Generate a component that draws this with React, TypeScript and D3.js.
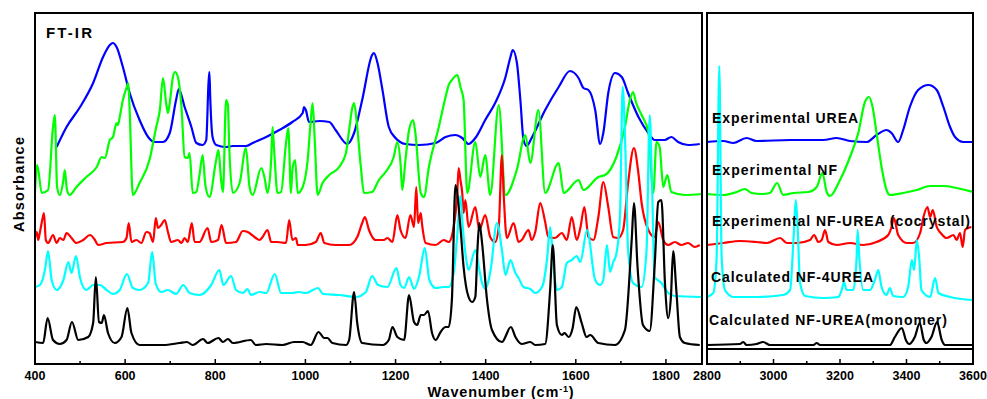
import * as d3 from 'd3'

type Pt = [number, number]

// wavenumber (cm-1), absorbance (a.u., stacked offsets included)
const EXP_UREA: Pt[] = [
  [448, 217], [470, 237], [500, 257], [529, 281], [551, 307], [566, 319], [573, 321], [581, 317], [595, 297], [610, 271],
  [632, 244], [651, 227], [665, 222], [684, 222], [699, 231], [713, 264], [719, 275], [732, 257], [747, 237], [758, 221],
  [772, 219], [780, 224], [785, 281], [787, 292], [789, 264], [794, 227], [802, 219], [824, 217], [839, 218], [868, 218],
  [883, 221], [913, 227], [942, 234], [971, 242], [994, 251], [997, 257], [1001, 254], [1008, 242], [1031, 243], [1053, 242],
  [1067, 234], [1093, 220], [1108, 231], [1126, 264], [1148, 309], [1152, 311], [1160, 301], [1171, 274], [1185, 237], [1200, 226],
  [1222, 220], [1252, 219], [1289, 221], [1311, 227], [1333, 229], [1348, 226], [1362, 220], [1377, 226], [1399, 244], [1421, 261],
  [1444, 287], [1455, 307], [1460, 314], [1469, 302], [1477, 264], [1484, 224], [1491, 218], [1502, 226], [1532, 254], [1562, 277],
  [1587, 293], [1606, 286], [1617, 276], [1628, 274], [1643, 254], [1654, 220], [1661, 231], [1672, 271], [1687, 291], [1702, 287],
  [1716, 271], [1739, 247], [1761, 231], [1775, 224], [1797, 224], [1812, 227], [1827, 222], [1849, 219], [1875, 220],
  [2800, 222], [2849, 223], [2879, 221], [2919, 226], [2949, 223], [3050, 224], [3150, 224], [3190, 226], [3230, 223], [3280, 222],
  [3310, 229], [3340, 234], [3355, 231], [3375, 222], [3390, 234], [3410, 257], [3435, 274], [3466, 279], [3491, 274], [3511, 257],
  [3531, 237], [3546, 227], [3571, 222], [3600, 222],
]

const EXP_NF: Pt[] = [
  [400, 172], [405, 199], [415, 171], [429, 174], [440, 237], [444, 249], [449, 177], [455, 169], [463, 184], [466, 194],
  [471, 174], [477, 169], [492, 177], [514, 187], [537, 197], [548, 207], [555, 206], [566, 224], [573, 227], [581, 241],
  [584, 239], [588, 247], [595, 264], [603, 276], [607, 281], [610, 254], [617, 169], [632, 181], [654, 204], [669, 237],
  [677, 254], [684, 286], [691, 261], [695, 251], [699, 261], [706, 287], [711, 292], [717, 287], [725, 257], [732, 207],
  [739, 206], [743, 211], [750, 171], [758, 172], [765, 189], [772, 209], [778, 179], [787, 167], [802, 204], [807, 214],
  [813, 184], [817, 172], [824, 264], [828, 259], [831, 217], [839, 171], [854, 181], [868, 216], [876, 177], [883, 169],
  [902, 196], [909, 187], [916, 171], [924, 204], [927, 237], [931, 211], [938, 171], [946, 172], [957, 221], [962, 236],
  [968, 171], [971, 194], [977, 204], [983, 171], [994, 177], [1005, 204], [1012, 244], [1016, 261], [1021, 221], [1027, 169],
  [1038, 181], [1053, 189], [1075, 197], [1090, 211], [1097, 234], [1104, 256], [1108, 261], [1115, 237], [1123, 197], [1130, 171],
  [1148, 172], [1163, 184], [1178, 192], [1196, 207], [1204, 222], [1211, 201], [1215, 174], [1222, 204], [1230, 234], [1239, 244],
  [1244, 231], [1256, 171], [1263, 167], [1274, 197], [1296, 237], [1311, 267], [1318, 279], [1325, 284], [1337, 289], [1344, 277],
  [1351, 264], [1359, 171], [1377, 222], [1388, 187], [1399, 209], [1410, 169], [1429, 259], [1444, 169], [1469, 194], [1488, 229],
  [1499, 201], [1517, 254], [1532, 171], [1562, 201], [1573, 171], [1606, 184], [1617, 174], [1650, 187], [1665, 189], [1690, 207],
  [1709, 237], [1720, 264], [1727, 272], [1734, 261], [1746, 249], [1761, 232], [1772, 171], [1779, 222], [1786, 217], [1794, 177],
  [1803, 189], [1812, 172], [1842, 169], [1879, 170],
  [2800, 170], [2849, 169], [2889, 172], [2914, 175], [2934, 171], [2965, 170], [2989, 171], [3011, 181], [3029, 169], [3060, 171],
  [3105, 172], [3130, 177], [3147, 191], [3160, 172], [3170, 168], [3200, 184], [3230, 207], [3255, 231], [3275, 262], [3287, 267],
  [3298, 257], [3310, 231], [3325, 197], [3340, 174], [3350, 169], [3390, 171], [3431, 174], [3471, 178], [3511, 178], [3551, 176],
  [3600, 172],
]

const EXP_COCRYSTAL: Pt[] = [
  [400, 127], [404, 132], [407, 124], [411, 132], [417, 146], [420, 151], [424, 124], [429, 121], [440, 129], [448, 121],
  [455, 126], [463, 124], [470, 131], [481, 126], [492, 121], [507, 124], [522, 129], [533, 124], [540, 119], [559, 121],
  [595, 122], [603, 126], [608, 141], [614, 122], [625, 124], [636, 121], [647, 132], [654, 131], [662, 122], [668, 146],
  [673, 136], [680, 139], [688, 144], [695, 132], [702, 122], [717, 124], [725, 121], [732, 126], [739, 122], [748, 141],
  [754, 122], [765, 122], [783, 136], [791, 122], [806, 124], [814, 139], [824, 121], [846, 122], [861, 133], [872, 132],
  [887, 127], [898, 124], [905, 127], [916, 134], [924, 122], [938, 122], [957, 121], [964, 144], [971, 124], [979, 126],
  [983, 119], [1001, 119], [1023, 122], [1034, 131], [1042, 121], [1067, 119], [1097, 119], [1115, 127], [1126, 141], [1132, 147],
  [1141, 134], [1156, 124], [1174, 124], [1182, 126], [1193, 122], [1204, 149], [1211, 134], [1222, 126], [1233, 149], [1241, 137],
  [1246, 177], [1250, 141], [1256, 151], [1259, 139], [1267, 121], [1289, 119], [1307, 124], [1318, 122], [1329, 137], [1337, 171],
  [1340, 196], [1344, 184], [1348, 171], [1351, 151], [1355, 164], [1362, 137], [1377, 157], [1386, 134], [1399, 149], [1410, 127],
  [1421, 122], [1429, 137], [1436, 209], [1440, 169], [1447, 126], [1462, 141], [1473, 122], [1480, 124], [1495, 134], [1502, 124],
  [1510, 132], [1521, 161], [1532, 142], [1539, 127], [1554, 126], [1569, 131], [1580, 124], [1591, 147], [1602, 124], [1610, 136],
  [1619, 157], [1628, 127], [1639, 124], [1650, 147], [1661, 182], [1672, 157], [1683, 127], [1694, 126], [1705, 134], [1716, 181],
  [1729, 216], [1738, 194], [1746, 161], [1761, 134], [1775, 127], [1783, 142], [1794, 124], [1805, 119], [1820, 122], [1834, 119],
  [1849, 121], [1864, 117], [1875, 119],
  [2800, 119], [2849, 121], [2899, 123], [2949, 122], [2980, 121], [3020, 126], [3040, 121], [3070, 121], [3110, 124], [3122, 129],
  [3135, 122], [3145, 124], [3155, 134], [3165, 122], [3190, 119], [3230, 121], [3270, 119], [3310, 122], [3345, 129], [3355, 137],
  [3362, 146], [3375, 129], [3401, 121], [3420, 121], [3441, 131], [3451, 147], [3463, 157], [3471, 147], [3479, 154], [3491, 137],
  [3503, 131], [3521, 126], [3541, 129], [3551, 124], [3561, 131], [3569, 117], [3576, 134], [3586, 136], [3595, 137],
]

const CALC_4UREA: Pt[] = [
  [400, 77], [411, 79], [422, 94], [429, 113], [437, 84], [448, 74], [463, 84], [474, 102], [481, 91], [491, 108],
  [500, 86], [514, 74], [529, 79], [544, 79], [559, 74], [573, 70], [588, 74], [604, 90], [617, 76], [632, 74],
  [651, 81], [660, 112], [668, 80], [680, 72], [695, 74], [713, 70], [729, 79], [743, 71], [765, 69], [791, 79],
  [809, 94], [818, 79], [835, 88], [846, 74], [861, 71], [872, 75], [879, 69], [898, 72], [913, 71], [932, 90],
  [946, 71], [971, 71], [986, 72], [1001, 71], [1028, 76], [1039, 70], [1075, 69], [1112, 67], [1134, 72], [1148, 88],
  [1161, 79], [1182, 77], [1202, 96], [1211, 79], [1219, 76], [1230, 87], [1241, 75], [1252, 87], [1265, 116], [1275, 84],
  [1289, 76], [1307, 77], [1318, 77], [1329, 91], [1337, 129], [1344, 168], [1349, 138], [1356, 107], [1362, 94], [1377, 114],
  [1386, 94], [1392, 81], [1399, 75], [1411, 94], [1425, 141], [1436, 114], [1444, 89], [1455, 104], [1465, 92], [1473, 86],
  [1484, 77], [1499, 75], [1510, 71], [1525, 77], [1536, 104], [1543, 137], [1550, 102], [1558, 74], [1569, 77], [1580, 101],
  [1591, 104], [1602, 108], [1610, 102], [1625, 134], [1643, 84], [1654, 79], [1661, 84], [1669, 119], [1676, 92], [1683, 102],
  [1690, 110], [1698, 147], [1704, 277], [1710, 214], [1716, 114], [1727, 81], [1746, 77], [1757, 114], [1764, 249], [1769, 181],
  [1775, 87], [1790, 81], [1805, 71], [1820, 68], [1879, 67],
  [2800, 67], [2819, 71], [2829, 107], [2837, 298], [2844, 107], [2854, 74], [2879, 67], [2949, 67], [3029, 69], [3050, 74],
  [3060, 124], [3067, 164], [3072, 141], [3080, 81], [3095, 68], [3150, 66], [3195, 67], [3205, 74], [3212, 82], [3220, 74],
  [3240, 74], [3250, 107], [3253, 134], [3258, 107], [3270, 74], [3290, 74], [3305, 84], [3315, 94], [3325, 77], [3340, 69],
  [3350, 76], [3360, 68], [3390, 67], [3405, 77], [3416, 104], [3423, 94], [3431, 124], [3438, 107], [3445, 74], [3471, 67],
  [3486, 86], [3496, 71], [3531, 67], [3600, 64],
]

const CALC_MONOMER: Pt[] = [
  [400, 22], [418, 21], [428, 46], [440, 24], [455, 20], [470, 24], [482, 42], [496, 24], [518, 27], [529, 41],
  [535, 87], [542, 42], [548, 41], [553, 49], [562, 31], [577, 21], [592, 27], [605, 56], [614, 31], [632, 19],
  [684, 19], [721, 21], [737, 22], [750, 19], [773, 25], [783, 21], [807, 26], [817, 22], [828, 25], [839, 21],
  [879, 24], [890, 19], [913, 20], [949, 19], [975, 22], [994, 22], [1012, 19], [1029, 32], [1042, 26], [1049, 26],
  [1060, 21], [1090, 19], [1097, 24], [1108, 72], [1115, 41], [1126, 21], [1171, 19], [1185, 24], [1193, 37], [1204, 27],
  [1219, 24], [1230, 69], [1241, 42], [1248, 39], [1256, 49], [1263, 49], [1272, 53], [1281, 31], [1289, 24], [1300, 32],
  [1311, 37], [1318, 37], [1325, 64], [1333, 179], [1344, 137], [1351, 97], [1362, 67], [1370, 62], [1377, 67], [1382, 117],
  [1386, 141], [1392, 121], [1403, 64], [1414, 34], [1436, 22], [1456, 37], [1466, 27], [1480, 20], [1499, 22], [1510, 19],
  [1532, 20], [1543, 74], [1549, 119], [1558, 39], [1569, 29], [1575, 31], [1584, 27], [1593, 36], [1601, 57], [1613, 41],
  [1624, 27], [1632, 29], [1650, 21], [1687, 19], [1709, 34], [1724, 124], [1729, 161], [1737, 97], [1749, 39], [1764, 33],
  [1775, 99], [1783, 162], [1790, 164], [1798, 79], [1805, 46], [1811, 67], [1816, 113], [1823, 74], [1831, 27], [1842, 21],
  [1875, 19],
  [2800, 19], [2899, 20], [2909, 22], [2919, 19], [2949, 20], [2969, 22], [2989, 19], [3120, 19], [3130, 21], [3140, 19],
  [3350, 19], [3365, 27], [3386, 36], [3398, 24], [3408, 20], [3425, 27], [3440, 41], [3452, 24], [3460, 21], [3475, 27],
  [3492, 42], [3506, 24], [3516, 19], [3600, 19],
]

const SERIES = [
  { name: 'Experimental UREA', color: '#0000ff', data: EXP_UREA },
  { name: 'Experimental NF', color: '#00ff00', data: EXP_NF },
  { name: 'Experimental NF-UREA (cocrystal)', color: '#ff0000', data: EXP_COCRYSTAL },
  { name: 'Calculated NF-4UREA', color: '#00ffff', data: CALC_4UREA },
  { name: 'Calculated NF-UREA(monomer)', color: '#000000', data: CALC_MONOMER },
]

const LEFT_TICKS = [400, 600, 800, 1000, 1200, 1400, 1600, 1800]
const LEFT_MINOR = [500, 700, 900, 1100, 1300, 1500, 1700]
const RIGHT_TICKS = [2800, 3000, 3200, 3400, 3600]
const RIGHT_MINOR = [2900, 3100, 3300, 3500]

// label placement in the right panel: [x, baseline, width]
const LABEL_POS: [number, number, number][] = [
  [712, 123, 146], [712, 175, 125], [712, 226, 258], [711, 282, 162], [709, 325, 238],
]

const W = 987, H = 399
const top = 13, bottom = 364
const font = "'Liberation Sans', Arial, sans-serif"

export default function App() {
  const y = d3.scaleLinear().domain([0, 351]).range([bottom, top])
  const panels = [
    { id: 'L', x: d3.scaleLinear().domain([400, 1880]).range([35, 702]), ticks: LEFT_TICKS, minor: LEFT_MINOR, keep: (w: number) => w <= 1880 },
    { id: 'R', x: d3.scaleLinear().domain([2800, 3600]).range([707, 973]), ticks: RIGHT_TICKS, minor: RIGHT_MINOR, keep: (w: number) => w >= 2800 },
  ]

  return (
    <svg width={W} height={H} style={{ position: 'absolute', left: 0, top: 0, background: '#fff' }} fontFamily={font}>
      <defs>
        {panels.map(p => (
          <clipPath key={p.id} id={'clip' + p.id}>
            <rect x={p.x.range()[0]} y={top} width={p.x.range()[1] - p.x.range()[0]} height={bottom - top} />
          </clipPath>
        ))}
      </defs>

      {panels.map(p => {
        const line = d3.line<Pt>().x(d => p.x(d[0])).y(d => y(d[1])).curve(d3.curveMonotoneX)
        const [x0, x1] = p.x.range()
        return (
          <g key={p.id}>
            <g clipPath={`url(#clip${p.id})`}>
              {p.id === 'R' && (
                <line x1={x0} x2={x1} y1={y(15)} y2={y(15)} stroke="#000" strokeWidth={1.8} />
              )}
              {SERIES.map(s => (
                <path key={s.name} d={line(s.data.filter(d => p.keep(d[0]))) ?? ''} fill="none"
                  stroke={s.color} strokeWidth={2.2} strokeLinejoin="round" />
              ))}
            </g>
            <rect x={x0} y={top} width={x1 - x0} height={bottom - top} fill="none" stroke="#000" strokeWidth={2} />
            {p.ticks.map(t => (
              <g key={t}>
                <line x1={p.x(t)} x2={p.x(t)} y1={bottom} y2={bottom - 5} stroke="#000" strokeWidth={1.5} />
                <text x={p.x(t)} y={380} textAnchor="middle" fontSize={12.5} fontWeight="bold">{t}</text>
              </g>
            ))}
            {p.minor.map(t => (
              <line key={t} x1={p.x(t)} x2={p.x(t)} y1={bottom} y2={bottom - 3} stroke="#000" strokeWidth={1.5} />
            ))}
          </g>
        )
      })}

      {SERIES.map((s, i) => (
        <text key={s.name} x={LABEL_POS[i][0]} y={LABEL_POS[i][1]} fontSize={14} fontWeight="bold" fill="#000"
          textLength={LABEL_POS[i][2]} lengthAdjust="spacing">{s.name}</text>
      ))}

      <text x={46} y={38} fontSize={15} fontWeight="bold" textLength={46} lengthAdjust="spacing">FT-IR</text>
      <text transform="translate(24,184.5) rotate(-90)" textAnchor="middle" fontSize={14.5} fontWeight="bold"
        textLength={95} lengthAdjust="spacing">Absorbance</text>
      <text x={501} y={397} textAnchor="middle" fontSize={14.5} fontWeight="bold" letterSpacing={0.8}>
        Wavenumber (cm<tspan dy={-5} fontSize={9}>-1</tspan><tspan dy={5}>)</tspan>
      </text>
    </svg>
  )
}
